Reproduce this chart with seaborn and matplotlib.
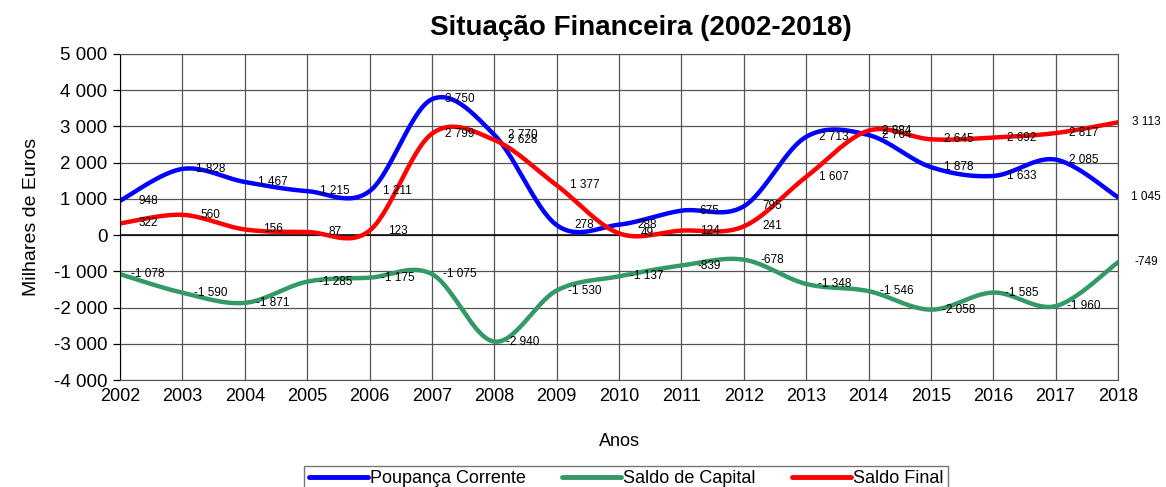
import numpy as np
import pandas as pd
import matplotlib.pyplot as plt
import seaborn as sns

years = list(range(2002, 2019))
poupanca = [948, 1828, 1467, 1215, 1211, 3750, 2770, 278, 288, 675, 795,
            2713, 2764, 1878, 1633, 2085, 1045]
capital = [-1078, -1590, -1871, -1285, -1175, -1075, -2940, -1530, -1137, -839, -678,
           -1348, -1546, -2058, -1585, -1960, -749]
final = [322, 560, 156, 87, 123, 2799, 2628, 1377, 49, 124, 241,
         1607, 2884, 2645, 2692, 2817, 3113]

series = {'Poupança Corrente': poupanca,
          'Saldo de Capital': capital,
          'Saldo Final': final}
colors = {'Poupança Corrente': '#0000FF',
          'Saldo de Capital': '#339966',
          'Saldo Final': '#FF0000'}


def smooth(x, y, n=30):
    # excel-like smoothed line (bezier through the points)
    x = np.asarray(x, float)
    y = np.asarray(y, float)
    xs, ys = [], []
    for i in range(len(x) - 1):
        p0 = np.array([x[i], y[i]])
        p3 = np.array([x[i + 1], y[i + 1]])
        pm = np.array([x[i - 1], y[i - 1]]) if i > 0 else p0
        pp = np.array([x[i + 2], y[i + 2]]) if i + 2 < len(x) else p3
        c1 = p0 + (p3 - pm) / 6
        c2 = p3 - (pp - p0) / 6
        t = np.linspace(0, 1, n, endpoint=(i == len(x) - 2))[:, None]
        pts = ((1 - t) ** 3) * p0 + 3 * ((1 - t) ** 2) * t * c1 + 3 * (1 - t) * t ** 2 * c2 + t ** 3 * p3
        xs.extend(pts[:, 0])
        ys.extend(pts[:, 1])
    return xs, ys


rows = []
for name, vals in series.items():
    sx, sy = smooth(years, vals)
    rows.append(pd.DataFrame({'ano': sx, 'valor': sy, 'serie': name}))
df = pd.concat(rows, ignore_index=True)

sns.set_style('white')
plt.rcParams['font.family'] = ['Liberation Sans', 'DejaVu Sans']
plt.rcParams['text.color'] = 'black'
plt.rcParams['axes.labelcolor'] = 'black'
plt.rcParams['xtick.color'] = 'black'
plt.rcParams['ytick.color'] = 'black'

fig = plt.figure(figsize=(11.66, 4.87), dpi=100)
ax = fig.add_axes([120 / 1166, 1 - 380 / 487, (1118 - 120) / 1166, (380 - 54) / 487])

sns.lineplot(data=df, x='ano', y='valor', hue='serie', palette=colors,
             linewidth=3.2, sort=False, estimator=None, ax=ax, legend=True)

for name, vals in series.items():
    for yr, v in zip(years, vals):
        ax.text(yr + 0.45, v, f"{v:,}".replace(',', ' '), fontsize=8.5,
                ha='center', va='center', clip_on=False)

ax.set_xlim(2002, 2018)
ax.set_ylim(-4000, 5000)
ax.set_xticks(years)
ax.set_yticks(range(-4000, 5001, 1000))
ax.set_yticklabels([f"{v:,}".replace(',', ' ') for v in range(-4000, 5001, 1000)])
ax.tick_params(axis='y', labelsize=13.5, length=5, width=0.9, color='black',
               direction='out', left=True, pad=4)
ax.tick_params(axis='x', labelsize=13, length=0, pad=6)
ax.grid(True, color='#555555', linewidth=0.9)
ax.axhline(0, color='black', linewidth=1.1, zorder=1)
for s in ax.spines.values():
    s.set_color('#555555')
ax.spines['left'].set_color('black')

ax.set_xlabel('Anos', fontsize=13, labelpad=20)
ax.set_ylabel('Milhares de Euros', fontsize=14, labelpad=10)
fig.text(0.55, 1 - 28 / 487, 'Situação Financeira (2002-2018)', fontsize=20,
         fontweight='bold', ha='center', va='center')

handles, labels = ax.get_legend_handles_labels()
ax.get_legend().remove()
leg = fig.legend(handles, labels, loc='upper center', bbox_to_anchor=(0.537, 0.062),
                 ncol=3, fontsize=13, frameon=True, fancybox=False, handlelength=3.3,
                 columnspacing=2.0, borderpad=0.25, handletextpad=0.1)
leg.get_frame().set_edgecolor('#555555')
for line in leg.get_lines():
    line.set_linewidth(3.5)

fig.savefig('out.png', dpi=100)
